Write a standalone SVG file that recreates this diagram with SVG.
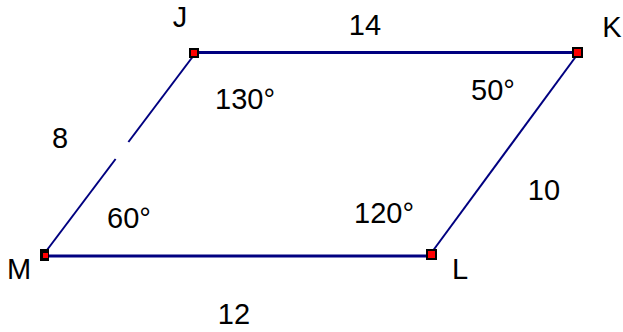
<svg xmlns="http://www.w3.org/2000/svg" width="623" height="332" viewBox="0 0 623 332">
<style>
text{font-family:"Liberation Sans",Arial,sans-serif;font-size:29px;fill:#000;text-anchor:middle}
.e{stroke:#000080;fill:none}
.h{stroke-width:3}
.s{stroke-width:2}
.mk{fill:#000}
.mr{fill:#f00}
</style>
<rect width="623" height="332" fill="#fff"/>
<g id="connectors">
<line class="e h" x1="194" y1="52.5" x2="577" y2="52.5"/>
<line class="e h" x1="44" y1="256" x2="431" y2="256"/>
<line class="e s" x1="194" y1="55" x2="128.4" y2="142"/>
<line class="e s" x1="115.6" y1="159" x2="44" y2="254"/>
<line class="e s" x1="577" y1="55" x2="432" y2="252"/>
</g>
<g id="labels">
<text x="365" y="35">14</text>
<text x="60" y="148">8</text>
<text x="544" y="200">10</text>
<text x="234" y="324">12</text>
<text x="245" y="109">130°</text>
<text x="493" y="100">50°</text>
<text x="129" y="228">60°</text>
<text x="384" y="223">120°</text>
</g>
<g id="J"><rect class="mk" x="189" y="48" width="10" height="10"/><rect class="mr" x="191" y="50" width="6" height="6"/><text x="180" y="27">J</text></g>
<g id="K"><rect class="mk" x="572" y="47" width="11" height="11"/><rect class="mr" x="574" y="49" width="7" height="7"/><text x="612" y="37">K</text></g>
<g id="L"><rect class="mk" x="426" y="249" width="11" height="11"/><rect class="mr" x="428" y="251" width="7" height="7"/><text x="460" y="279">L</text></g>
<g id="M"><rect class="mk" x="40" y="249" width="9" height="12"/><rect class="mr" x="43" y="253" width="5" height="5"/><text x="19" y="279">M</text></g>
</svg>
